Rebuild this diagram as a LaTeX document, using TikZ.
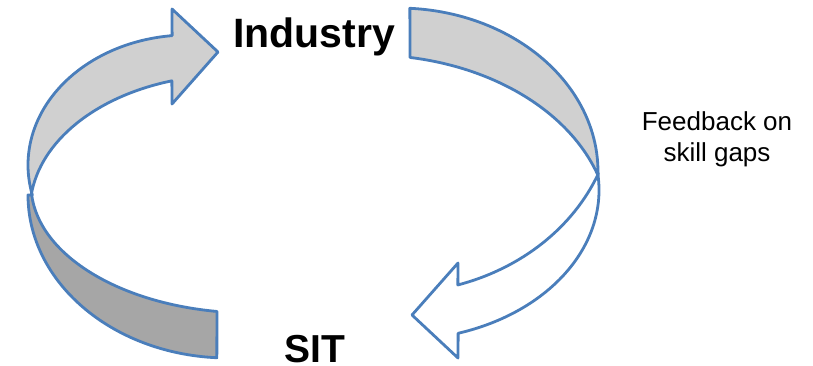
\documentclass[tikz,border=0pt]{standalone}
\usepackage{fontspec}
\setmainfont{Liberation Sans}
\definecolor{edgeblue}{HTML}{4A7EBB}
\definecolor{lightgray}{HTML}{D0D0D0}
\definecolor{darkgray}{HTML}{A6A6A6}
\tikzset{
  ribbon/.style={draw=edgeblue, line width=2.8pt, line join=round},
  bigtitle/.style={font=\bfseries\fontsize{41}{41}\selectfont, anchor=base, inner sep=0pt},
  notetext/.style={font=\fontsize{26}{31}\selectfont, align=center, anchor=base, inner sep=0pt}
}
\begin{document}
\begin{tikzpicture}[x=1pt,y=-1pt]
\useasboundingbox (0,0) rectangle (813,366);
% bottom-left dark band
\draw[ribbon, fill=darkgray]
  ([shift={(228,195)}]180:200 and 163)
  arc[start angle=180, end angle=93.2, x radius=200, y radius=163]
  -- ([shift={(251,185)}]98.9:220 and 128)
  arc[start angle=98.9, end angle=175.5, x radius=220, y radius=128]
  -- cycle;
% top-left arrow
\draw[ribbon, fill=lightgray]
  ([shift={(188,165)}]166.7:160 and 130)
  arc[start angle=166.7, end angle=264.3, x radius=160, y radius=130]
  -- (172,9) -- (218,52) -- (172,104)
  -- ([shift={(230,210)}]253.1:200 and 135)
  arc[start angle=253.1, end angle=186.4, x radius=200, y radius=135]
  -- cycle;
% top-right band
\draw[ribbon, fill=lightgray]
  ([shift={(398,172)}]-86.6:200 and 164)
  arc[start angle=-86.6, end angle=0, x radius=200, y radius=164]
  -- ([shift={(370,230)}]-18.2:240 and 175)
  arc[start angle=-18.2, end angle=-80.4, x radius=240, y radius=175]
  -- cycle;
% bottom-right arrow
\draw[ribbon, fill=white]
  ([shift={(399,190)}]-6.9:200 and 150)
  arc[start angle=-6.9, end angle=72.8, x radius=200, y radius=150]
  -- (458,358) -- (412,315) -- (458,263)
  -- ([shift={(395,100)}]73.4:220 and 193)
  arc[start angle=73.4, end angle=22.5, x radius=220, y radius=193]
  -- cycle;
% labels
\node[bigtitle] (industry) at (314,48) {Industry};
\node[bigtitle, font=\bfseries\fontsize{39}{39}\selectfont] (sit) at (315,362) {SIT};
\node[notetext] (feedback) at (717,162) {Feedback on\\skill gaps};
\end{tikzpicture}
\end{document}
